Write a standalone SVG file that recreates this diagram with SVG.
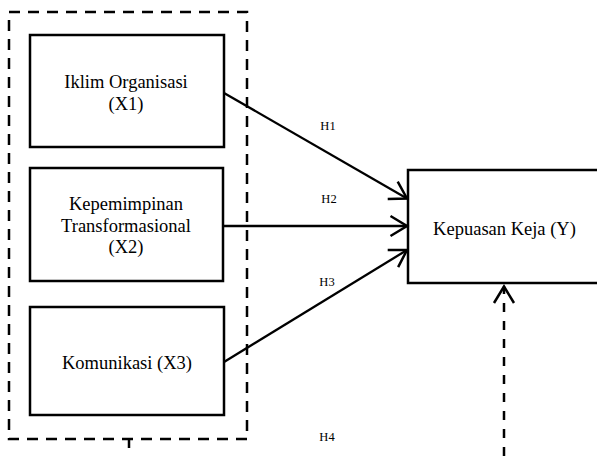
<svg xmlns="http://www.w3.org/2000/svg" width="597" height="456" viewBox="0 0 597 456">
<style>
.box{fill:#fff;stroke:#000;stroke-width:2.5}
.dash{fill:none;stroke:#000;stroke-width:2.5;stroke-dasharray:11 8}
.t{font-family:"Liberation Serif","Times New Roman",serif;font-size:18.5px;fill:#000;text-anchor:middle}
.h{font-family:"Liberation Serif","Times New Roman",serif;font-size:12.5px;fill:#000;text-anchor:middle}
.ln{fill:none;stroke:#000;stroke-width:2.3}
.dl{fill:none;stroke:#000;stroke-width:2.5;stroke-dasharray:9 9}
</style>
<defs>
<marker id="ah" markerUnits="userSpaceOnUse" markerWidth="30" markerHeight="30" viewBox="-20 -15 25 30" refX="0" refY="0" orient="auto" overflow="visible">
<path d="M-16.5,-10 L0,0 L-16.5,10" fill="none" stroke="#000" stroke-width="2.5" stroke-dasharray="none"/>
</marker>
</defs>
<g id="group-x">
<rect class="dash" x="9" y="12" width="238" height="427"/>
</g>
<g id="x1">
<rect class="box" x="30" y="35" width="194" height="112"/>
<text class="t" x="126" y="88">Iklim Organisasi</text>
<text class="t" x="126" y="110">(X1)</text>
</g>
<g id="x2">
<rect class="box" x="30" y="168" width="193" height="113"/>
<text class="t" x="126" y="210">Kepemimpinan</text>
<text class="t" x="126" y="231.5">Transformasional</text>
<text class="t" x="126" y="253">(X2)</text>
</g>
<g id="x3">
<rect class="box" x="30" y="307" width="194" height="108"/>
<text class="t" x="127" y="369">Komunikasi (X3)</text>
</g>
<g id="y">
<rect class="box" x="408" y="170" width="200" height="113"/>
<text class="t" x="504.5" y="235">Kepuasan Keja (Y)</text>
</g>
<g id="connectors">
<line class="ln" x1="224" y1="93" x2="407" y2="198.5" marker-end="url(#ah)"/>
<line class="ln" x1="224" y1="226" x2="407" y2="226" marker-end="url(#ah)"/>
<line class="ln" x1="224" y1="362" x2="407" y2="250" marker-end="url(#ah)"/>
<line class="dl" x1="129" y1="439" x2="129" y2="458"/>
<line class="dl" x1="504" y1="456" x2="504" y2="286.5" marker-end="url(#ah)"/>
<text class="h" x="328" y="130">H1</text>
<text class="h" x="329" y="202.5">H2</text>
<text class="h" x="327" y="286">H3</text>
<text class="h" x="327" y="440.5">H4</text>
</g>
</svg>
